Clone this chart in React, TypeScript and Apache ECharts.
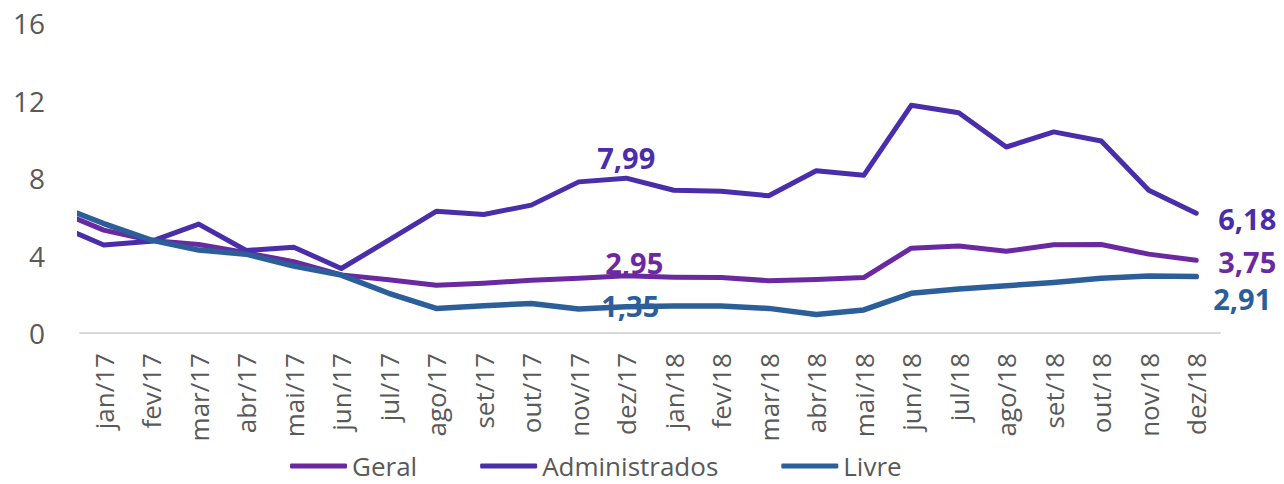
import React, { useEffect, useRef } from "react";
import * as echarts from "echarts";

// Month labels shown on the x axis
const categories = [
  "jan/17", "fev/17", "mar/17", "abr/17", "mai/17", "jun/17",
  "jul/17", "ago/17", "set/17", "out/17", "nov/17", "dez/17",
  "jan/18", "fev/18", "mar/18", "abr/18", "mai/18", "jun/18",
  "jul/18", "ago/18", "set/18", "out/18", "nov/18", "dez/18",
];

// First value of each series is the prior month (dez/16), clipped by the plot edge
const geral = [
  6.33, 5.31, 4.77, 4.57, 4.14, 3.68, 3.0, 2.75, 2.47, 2.57, 2.72, 2.83, 2.95,
  2.88, 2.86, 2.7, 2.76, 2.86, 4.38, 4.49, 4.22, 4.55, 4.57, 4.07, 3.75,
];
const administrados = [
  5.6, 4.54, 4.73, 5.62, 4.26, 4.43, 3.33, 4.79, 6.28, 6.12, 6.6, 7.8, 7.99,
  7.37, 7.32, 7.08, 8.37, 8.14, 11.75, 11.37, 9.6, 10.38, 9.91, 7.37, 6.18,
];
const livre = [
  6.6, 5.65, 4.8, 4.28, 4.07, 3.45, 2.99, 2.05, 1.27, 1.41, 1.52, 1.24, 1.35,
  1.39, 1.39, 1.27, 0.96, 1.19, 2.05, 2.27, 2.44, 2.61, 2.82, 2.94, 2.91,
];

const seriesNames = ["Geral", "Administrados", "Livre"];
const yTicks = { min: 0, max: 16, interval: 4 };

const COLORS: Record<string, string> = {
  Geral: "#6A29A0",
  Administrados: "#4A2DAA",
  Livre: "#2C5E9A",
};

const FONT = "'Open Sans', 'Noto Sans', sans-serif";
const GRAY = "#595959";

const toPoints = (vals: number[]) => vals.map((v, i) => [i - 1, v]);
const fmt = (v: number) => v.toFixed(2).replace(".", ",");

export default function App() {
  const ref = useRef<HTMLDivElement>(null);

  useEffect(() => {
    if (!ref.current) return;
    const chart = echarts.init(ref.current, undefined, { renderer: "svg" });

    const dez17 = 11;
    const dez18 = 23;

    const mkLabel = (
      name: string,
      vals: number[],
      idx: number,
      pos: any,
      distance: number,
      offset: number[]
    ) => ({
      value: [idx, vals[idx + 1]],
      itemStyle: { color: COLORS[name], opacity: 1 },
      label: {
        show: true,
        color: COLORS[name],
        opacity: 1,
        fontFamily: FONT,
        fontWeight: "bold",
        fontSize: 29,
        lineHeight: 29,
        position: pos,
        distance,
        offset,
        formatter: (p: any) => fmt(p.value[1]),
      },
    });

    const labelData = [
      mkLabel("Administrados", administrados, dez17, "top", 0, [0, -6]),
      mkLabel("Geral", geral, dez17, "top", 0, [8, 1]),
      mkLabel("Livre", livre, dez17, "inside", 0, [4, -1]),
      mkLabel("Administrados", administrados, dez18, "right", 22, [0, 5]),
      mkLabel("Geral", geral, dez18, "right", 22, [0, 1]),
      mkLabel("Livre", livre, dez18, "right", 17, [0, 22]),
    ];

    const lineSeries = (name: string, vals: number[], width: number) => ({
      name,
      type: "line",
      data: toPoints(vals),
      symbol: "none",
      clip: true,
      z: 3,
      lineStyle: { width, color: COLORS[name], cap: "round", join: "round" },
      itemStyle: { color: COLORS[name] },
      emphasis: { disabled: true },
    });

    chart.setOption({
      animation: false,
      backgroundColor: "#FFFFFF",
      textStyle: { fontFamily: FONT },
      grid: { left: 80, right: 64, top: 23, bottom: 151 },
      legend: {
        data: seriesNames,
        left: 285,
        top: 447,
        icon: "roundRect",
        itemWidth: 57,
        itemHeight: 5,
        itemGap: 63,
        textStyle: { fontSize: 26, lineHeight: 28, color: GRAY, fontFamily: FONT },
      },
      xAxis: {
        type: "value",
        min: -0.5,
        max: 23.5,
        interval: 0.5,
        axisLine: { show: true, lineStyle: { color: "#D9D9D9", width: 2 } },
        axisTick: { show: false },
        splitLine: { show: false },
        axisLabel: {
          rotate: 90,
          margin: 20,
          fontSize: 26,
          color: GRAY,
          fontFamily: FONT,
          showMinLabel: true,
          showMaxLabel: true,
          formatter: (v: number) => {
            const r = Math.round(v);
            if (Math.abs(v - r) > 1e-6) return "";
            return categories[r] ?? "";
          },
        },
      },
      yAxis: {
        type: "value",
        min: yTicks.min,
        max: yTicks.max,
        interval: yTicks.interval,
        axisLine: { show: false },
        axisTick: { show: false },
        splitLine: { show: false },
        axisLabel: { fontSize: 28, color: GRAY, margin: 35, fontFamily: FONT },
      },
      series: [
        {
          name: "rotulos",
          type: "scatter",
          z: 1,
          symbolSize: 0,
          data: labelData,
          silent: true,
          emphasis: { disabled: true },
        },
        lineSeries("Geral", geral, 5),
        lineSeries("Administrados", administrados, 5),
        lineSeries("Livre", livre, 5.5),
      ],
    });

    return () => chart.dispose();
  }, []);

  return (
    <div
      ref={ref}
      style={{ position: "fixed", left: 0, top: 0, width: 1284, height: 484, background: "#fff" }}
    />
  );
}
